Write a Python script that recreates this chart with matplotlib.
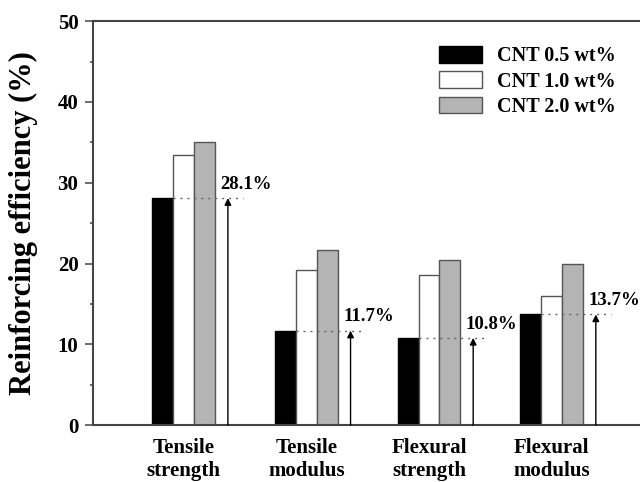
import numpy as np
import matplotlib
matplotlib.use("Agg")
import matplotlib.pyplot as plt

plt.rcParams["font.family"] = ["Liberation Serif", "DejaVu Serif"]
plt.rcParams["font.weight"] = "bold"

categories = ["Tensile\nstrength", "Tensile\nmodulus", "Flexural\nstrength", "Flexural\nmodulus"]
series_names = ["CNT 0.5 wt%", "CNT 1.0 wt%", "CNT 2.0 wt%"]
cnt_05 = [28.1, 11.7, 10.8, 13.7]
cnt_10 = [33.4, 19.2, 18.6, 16.0]
cnt_20 = [35.1, 21.7, 20.4, 20.0]
marked = ["28.1%", "11.7%", "10.8%", "13.7%"]

fig = plt.figure(figsize=(6.4, 4.82), dpi=100)
ax = fig.add_axes([0.1453, 0.118, 0.87, 0.838])

x = np.arange(len(categories))
w = 0.17
spine_col = "#444444"

ax.bar(x - w, cnt_05, w, color="black", edgecolor="black", linewidth=1, label=series_names[0])
ax.bar(x, cnt_10, w, color="white", edgecolor="#555555", linewidth=1, label=series_names[1])
ax.bar(x + w, cnt_20, w, color="#b4b4b4", edgecolor="#555555", linewidth=1, label=series_names[2])

for i, v in enumerate(cnt_05):
    xa = x[i] + 0.36
    ax.plot([x[i] - w / 2, x[i] + 0.48], [v, v], color="#666666", lw=1,
            linestyle=(0, (1.5, 3.5)))
    ax.annotate("", xy=(xa, v), xytext=(xa, 0),
                arrowprops=dict(arrowstyle="-|>", lw=1, color="black",
                                mutation_scale=10, shrinkA=0, shrinkB=0))
    ax.text(x[i] + 0.30, v + 1.7, marked[i], fontsize=13.5, fontweight="bold",
            ha="left", va="center")

ax.set_xlim(-0.74, 3.8)
ax.set_ylim(0, 50)
ax.set_xticks(x)
ax.set_xticklabels(categories, fontsize=15, fontweight="bold", linespacing=1.2)
ax.set_yticks([0, 10, 20, 30, 40, 50])
ax.set_yticks([5, 15, 25, 35, 45], minor=True)
ax.tick_params(axis="x", length=0, pad=9)
ax.tick_params(axis="y", which="major", length=5.5, width=1.1, color=spine_col,
               direction="out", labelsize=15, pad=5)
ax.tick_params(axis="y", which="minor", length=2.5, width=1.1, color=spine_col,
               direction="out")
for lab in ax.get_yticklabels():
    lab.set_fontweight("bold")

ax.spines["right"].set_visible(False)
for s in ["left", "top", "bottom"]:
    ax.spines[s].set_color(spine_col)
    ax.spines[s].set_linewidth(1.5)

ax.set_ylabel("Reinforcing efficiency (%)", fontsize=22, fontweight="bold", labelpad=14)

ax.legend(loc="upper left", bbox_to_anchor=(0.670, 0.925), bbox_transform=fig.transFigure,
          frameon=False, borderpad=0, handlelength=2.16, handleheight=0.87,
          handletextpad=0.72, labelspacing=0.25, prop={"weight": "bold", "size": 14.5})

fig.savefig("out.png", dpi=100)
